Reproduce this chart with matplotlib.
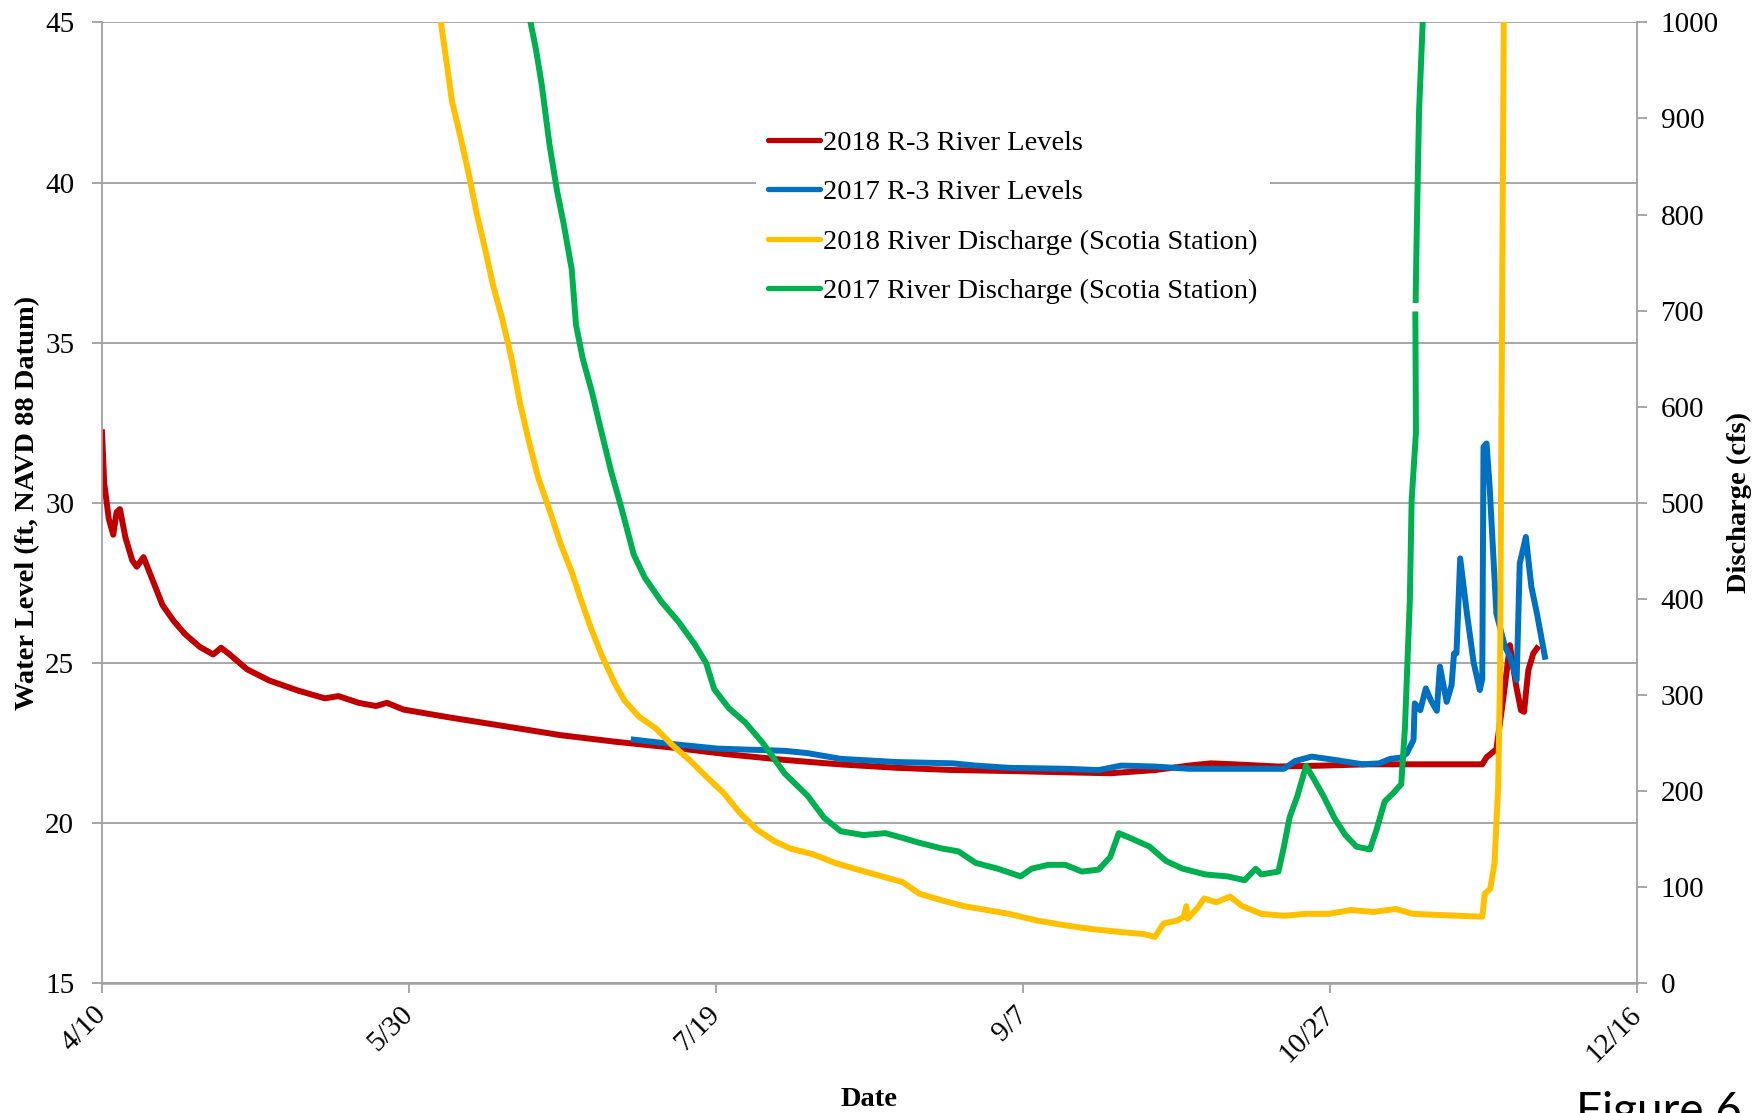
import numpy as np
import pandas as pd
import matplotlib
matplotlib.use("Agg")
import matplotlib.pyplot as plt

# ---------------- data (day offsets from 4/10) ----------------
base_date = pd.Timestamp("2018-04-10")

r2018_days = [0, 0.37, 1.1, 1.83, 2.37, 2.92, 3.83, 4.93, 5.66, 6.76, 8.0, 9.86, 11.7, 13.5,
              15.9, 18.1, 19.4, 20.8, 23.6, 27.2, 31.8, 36.3, 38.5, 41.8, 44.6, 46.4, 49.1,
              56.4, 65.6, 74.7, 83.8, 93, 102, 111, 120, 129.5, 138.6, 147.7, 156.9, 164.2,
              171.5, 177, 180.6, 184.3, 191.6, 198.9, 206.2, 213.5, 220.8, 224.8, 225.5,
              227.1, 228.3, 229.3, 230.3, 231.1, 231.6, 232.3, 233.1, 233.7]
r2018_level = [32.2, 30.6, 29.5, 29.0, 29.7, 29.8, 28.9, 28.2, 28.0, 28.3, 27.7, 26.8, 26.3, 25.9,
               25.5, 25.26, 25.47, 25.26, 24.8, 24.45, 24.14, 23.89, 23.96, 23.75, 23.65, 23.75,
               23.54, 23.3, 23.02, 22.74, 22.53, 22.35, 22.14, 21.97, 21.83, 21.72, 21.65, 21.62,
               21.58, 21.55, 21.65, 21.79, 21.86, 21.83, 21.76, 21.79, 21.83, 21.83, 21.83, 21.83,
               22.05, 22.3, 24.0, 25.55, 24.3, 23.52, 23.47, 24.77, 25.29, 25.45]

r2017_days = [86.6, 93, 100.3, 111.2, 114.9, 120.3, 129.5, 138.6, 142.3, 147.7, 156.9, 162.3,
              166, 171.5, 177, 182.4, 187.9, 192.5, 194.3, 197, 200.7, 205.3, 208, 209.8, 211.6,
              212.5, 213.6, 213.8, 214.7, 215.6, 216.5, 217.4, 217.9, 219.0, 219.8, 220.2, 220.6,
              221.2, 222.3, 223.4, 224.4, 224.8, 225.0, 225.5, 226.0, 227.1, 228.5, 229.3, 230.4,
              230.9, 231.9, 232.8, 233.7, 235.0]
r2017_level = [22.6, 22.46, 22.32, 22.25, 22.18, 22.0, 21.9, 21.86, 21.79, 21.72, 21.69, 21.65,
               21.79, 21.76, 21.69, 21.69, 21.69, 21.69, 21.93, 22.07, 21.97, 21.83, 21.86, 22.0,
               22.04, 22.17, 22.59, 23.73, 23.52, 24.2, 23.8, 23.5, 24.88, 23.78, 24.3, 25.29,
               25.3, 28.26, 26.54, 25.0, 24.15, 24.5, 31.74, 31.85, 30.5, 26.54, 25.5, 25.2,
               24.46, 28.1, 28.93, 27.37, 26.54, 25.19]

q2018_days = [55.2, 56.1, 57, 58.3, 59.7, 61, 62.5, 63.7, 65.2, 66.7, 68.1, 69.6, 71, 72.9, 74.7,
              76.5, 78, 79.6, 81.4, 83.5, 85.1, 87.5, 90.2, 93, 95.7, 98.4, 101.2, 103.9, 106.6,
              109.4, 112.1, 115.8, 119.4, 123.1, 127.6, 130.4, 133.1, 136.8, 140.4, 144.1, 147.7,
              152.3, 156.9, 161.4, 166, 169.6, 171.5, 172.9, 175.1, 176.2, 176.6, 176.8, 178.4,
              179.5, 181.5, 183.7, 185.7, 188.8, 192.5, 196.1, 199.8, 203.4, 207.1, 210.7, 213.5,
              217.1, 220.8, 224.8, 225.2, 226.1, 226.8, 227.4, 227.7, 227.9, 228.3]
q2018_cfs = [1000, 959, 918, 883, 843, 802, 761, 726, 691, 650, 603, 562, 527, 492, 457, 428,
             399, 370, 341, 312, 294, 277, 265, 247, 232, 215, 198, 177, 160, 148, 140, 134, 125,
             118, 110, 105, 93, 86, 80, 76, 72, 65, 60, 56, 53, 51, 48, 62, 65, 69, 80, 67, 78,
             88, 84, 90, 80, 72, 70, 72, 72, 76, 74, 77, 72, 71, 70, 69, 93, 98, 125, 207, 323,
             557, 1000]

q2017_days = [69.8, 70.7, 71.6, 72.9, 74.1, 75.2, 76.5, 77.2, 78.3, 79.8, 81.1, 82.9, 84.7, 86.6,
              88.4, 91.1, 93.9, 96.6, 98.4, 99.7, 102.1, 104.8, 107.6, 111.2, 114.9, 117.6, 120.3,
              124, 127.6, 130.4, 133.1, 136.8, 139.5, 142.3, 145.9, 149.6, 151.4, 154.1, 156.9,
              159.6, 162.3, 164.2, 165.6, 167.8, 170.6, 173.3, 176, 179.7, 183.3, 186.1, 187.9,
              188.8, 191.6, 192.5, 193.4, 194.7, 196.1, 197.4, 198.9, 200.7, 202.5, 204.3, 206.5,
              207.6, 208.9, 210.2, 211.6, 212.2, 213.0, 213.3, 214.0, 213.9, 213.95, 213.95,
              214.1, 214.5, 215.1]
q2017_cfs = [1000, 971, 936, 872, 825, 790, 743, 685, 650, 615, 580, 533, 492, 446, 422, 397,
             376, 352, 333, 306, 286, 271, 250, 218, 195, 172, 158, 154, 156, 151, 146, 140, 137,
             125, 119, 111, 119, 123, 123, 116, 118, 131, 156, 150, 142, 127, 119, 113, 111, 107,
             119, 113, 116, 142, 172, 195, 226, 212, 195, 172, 154, 142, 139, 160, 189, 197, 207,
             265, 398, 503, 573, 696, np.nan, 711, 772, 907, 1000]

tick_days = [0, 50, 100, 150, 200, 250]
tick_labels = ["4/10", "5/30", "7/19", "9/7", "10/27", "12/16"]
left_ticks = [15, 20, 25, 30, 35, 40, 45]
right_ticks = [0, 100, 200, 300, 400, 500, 600, 700, 800, 900, 1000]

series_names = ["2018 R-3 River Levels", "2017 R-3 River Levels",
                "2018 River Discharge (Scotia Station)", "2017 River Discharge (Scotia Station)"]
series_colors = ["#C00000", "#0070C0", "#FFC000", "#00B050"]


def to_dates(days):
    return base_date + pd.to_timedelta(np.asarray(days, dtype=float), unit="D")


# ---------------- figure ----------------
plt.rcParams["font.family"] = ["Liberation Serif", "DejaVu Serif"]
W, H = 1758, 1113
fig = plt.figure(figsize=(W / 100, H / 100), dpi=100)
L, R, T, B = 102, 1637, 22.4, 983
ax = fig.add_axes([L / W, 1 - B / H, (R - L) / W, (B - T) / H])
ax2 = ax.twinx()

grid_c = "#A0A0A0"
lw = 4.3

l1, = ax.plot(to_dates(r2018_days), r2018_level, color=series_colors[0], lw=lw,
              solid_joinstyle="round", label=series_names[0])
l2, = ax.plot(to_dates(r2017_days), r2017_level, color=series_colors[1], lw=lw,
              solid_joinstyle="round", label=series_names[1])
l3, = ax2.plot(to_dates(q2018_days), q2018_cfs, color=series_colors[2], lw=lw,
               solid_joinstyle="round", label=series_names[2])
l4, = ax2.plot(to_dates(q2017_days), q2017_cfs, color=series_colors[3], lw=lw,
               solid_joinstyle="round", label=series_names[3])

ax.set_xlim(to_dates([0])[0], to_dates([250])[0])
ax.set_ylim(15, 45)
ax2.set_ylim(0, 1000)
ax.set_yticks(left_ticks)
ax2.set_yticks(right_ticks)
ax.set_xticks(to_dates(tick_days))
ax.set_xticklabels(tick_labels)

ax.yaxis.grid(True, color=grid_c, lw=1.3)
ax.set_axisbelow(True)
ax2.grid(False)

for a in (ax, ax2):
    a.spines["top"].set_visible(False)
    for s in ("left", "right", "bottom"):
        a.spines[s].set_color(grid_c)
        a.spines[s].set_linewidth(1.3)
ax.spines["right"].set_visible(False)
ax2.spines["left"].set_visible(False)
ax2.spines["bottom"].set_visible(False)
ax.spines["bottom"].set_linewidth(1.8)

fs = 21
lfs = 20.5
ax.tick_params(axis="y", direction="out", length=7, width=1.3, color=grid_c,
               labelsize=fs, pad=13)
ax2.tick_params(axis="y", direction="out", length=7, width=1.3, color=grid_c,
                labelsize=fs, pad=10)
ax.tick_params(axis="x", direction="out", length=7, width=1.3, color=grid_c,
               labelsize=fs, pad=13)
for lab in ax.get_xticklabels():
    lab.set_rotation(45)
    lab.set_ha("right")
    lab.set_va("center")
    lab.set_rotation_mode("anchor")

ax.set_ylabel("Water Level (ft, NAVD 88 Datum)", fontsize=lfs, fontweight="bold", va="center")
ax.yaxis.set_label_coords((28 - L) / (R - L), 0.5)
ax2.set_ylabel("Discharge (cfs)", fontsize=lfs, fontweight="bold", va="center", rotation=90)
ax2.yaxis.set_label_coords((1739 - L) / (R - L), 0.5)
ax.set_xlabel("Date", fontsize=lfs, fontweight="bold", va="center")
ax.xaxis.set_label_coords(0.5, (B - 1099) / (B - T))

leg = ax2.legend(handles=[l1, l2, l3, l4], loc="center",
                 bbox_to_anchor=(1013 / W, 1 - 217 / H), bbox_transform=fig.transFigure,
                 fontsize=lfs, frameon=True, fancybox=False, framealpha=1,
                 handlelength=1.8, handletextpad=0.12, labelspacing=0.82,
                 borderpad=0.45, borderaxespad=0)
leg.get_frame().set_facecolor("white")
leg.get_frame().set_edgecolor("none")
for h in leg.get_lines():
    h.set_linewidth(3.8)
    h.set_solid_capstyle("round")

fig.text(1576 / W, 1 - 1091 / H, "Figure 6", fontsize=33, family=["Lato", "DejaVu Sans"],
         ha="left", va="top")

fig.savefig("out.png", dpi=100)
